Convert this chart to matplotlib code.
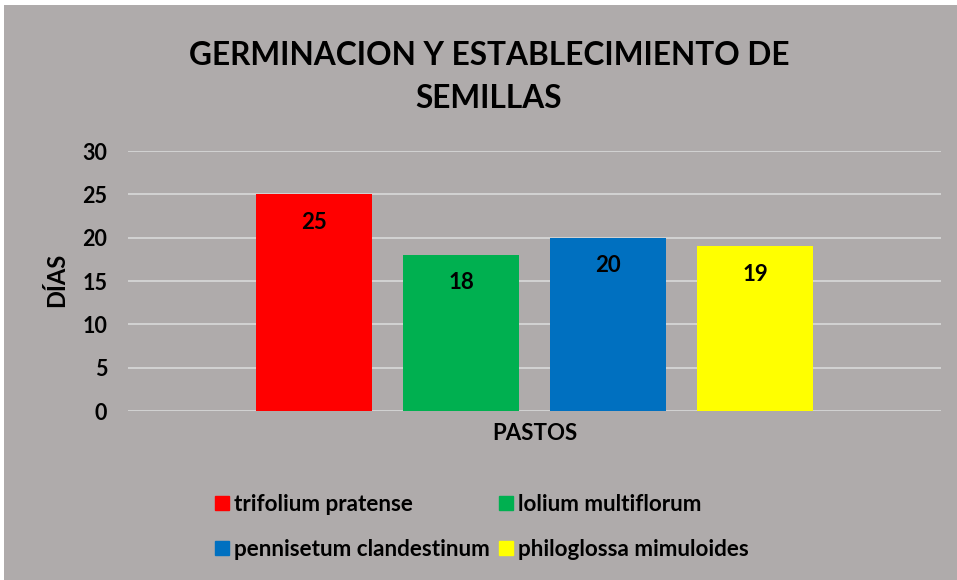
import matplotlib
matplotlib.use("Agg")
import matplotlib.pyplot as plt
from matplotlib.patches import Rectangle
from matplotlib.lines import Line2D

categories = ["trifolium pratense", "lolium multiflorum", "pennisetum clandestinum", "philoglossa mimuloides"]
values = [25, 18, 20, 19]
colors = ["#FF0000", "#00B050", "#0070C0", "#FFFF00"]
yticks = [0, 5, 10, 15, 20, 25, 30]
title = "GERMINACION Y ESTABLECIMIENTO DE\nSEMILLAS"
xlabel = "PASTOS"
ylabel = "DÍAS"

plt.rcParams['font.family'] = ['Lato', 'DejaVu Sans']
bg = "#AFABAB"
W, H = 957, 580
fig = plt.figure(figsize=(W/100, H/100), dpi=100, facecolor="white")
fig.patches.append(Rectangle((4/W, 0), 1 - 4/W, 1 - 5/H, transform=fig.transFigure,
                             facecolor=bg, edgecolor="none", zorder=-5))

ax = fig.add_axes([128/W, 1 - 411/H, (941-128)/W, (411-151)/H])
ax.patch.set_visible(False)
x = list(range(len(values)))
bars = ax.bar(x, values, width=0.79, color=colors, zorder=3)
half = 813/2/147
ax.set_xlim(1.5 - half, 1.5 + half)
ax.set_ylim(0, 30)
ax.set_yticks(yticks)
ax.set_yticklabels([str(t) for t in yticks], fontsize=15.5, fontweight="bold")
ax.tick_params(axis='y', length=0, pad=15)
ax.set_xticks([])
for s in ax.spines.values():
    s.set_visible(False)
ax.grid(axis='y', color="#D9D9D9", linewidth=1.2, zorder=0)
ax.set_axisbelow(True)

for b, v in zip(bars, values):
    ax.annotate(str(v), (b.get_x() + b.get_width()/2, v), xytext=(0, -20),
                textcoords="offset points", ha="center", va="center",
                fontsize=16, fontweight="bold", color="black", zorder=4)

fig.text(535/W, 1 - 434/H, xlabel, ha="center", va="center", fontsize=16, fontweight="bold")
fig.text(57/W, 1 - 280/H, ylabel, ha="center", va="center", rotation=90, fontsize=17, fontweight="bold")
fig.text(489/W, 1 - 77/H, title, ha="center", va="center", fontsize=22.8, fontweight="bold",
         linespacing=1.6)

order = [0, 2, 1, 3]
handles = [Line2D([0], [0], marker='s', linestyle='none', markersize=9.5, markerfacecolor=colors[i],
                  markeredgecolor=colors[i]) for i in order]
labels = [categories[i] for i in order]
leg = fig.legend(handles, labels, ncol=2, loc="center", bbox_to_anchor=(480/W, 1 - 527/H),
                 frameon=False, prop={'size': 16.2, 'weight': 'bold'}, handletextpad=0.05,
                 columnspacing=0.2, labelspacing=1.08, handlelength=1.0)

fig.savefig("out.png", dpi=100, facecolor="white")
